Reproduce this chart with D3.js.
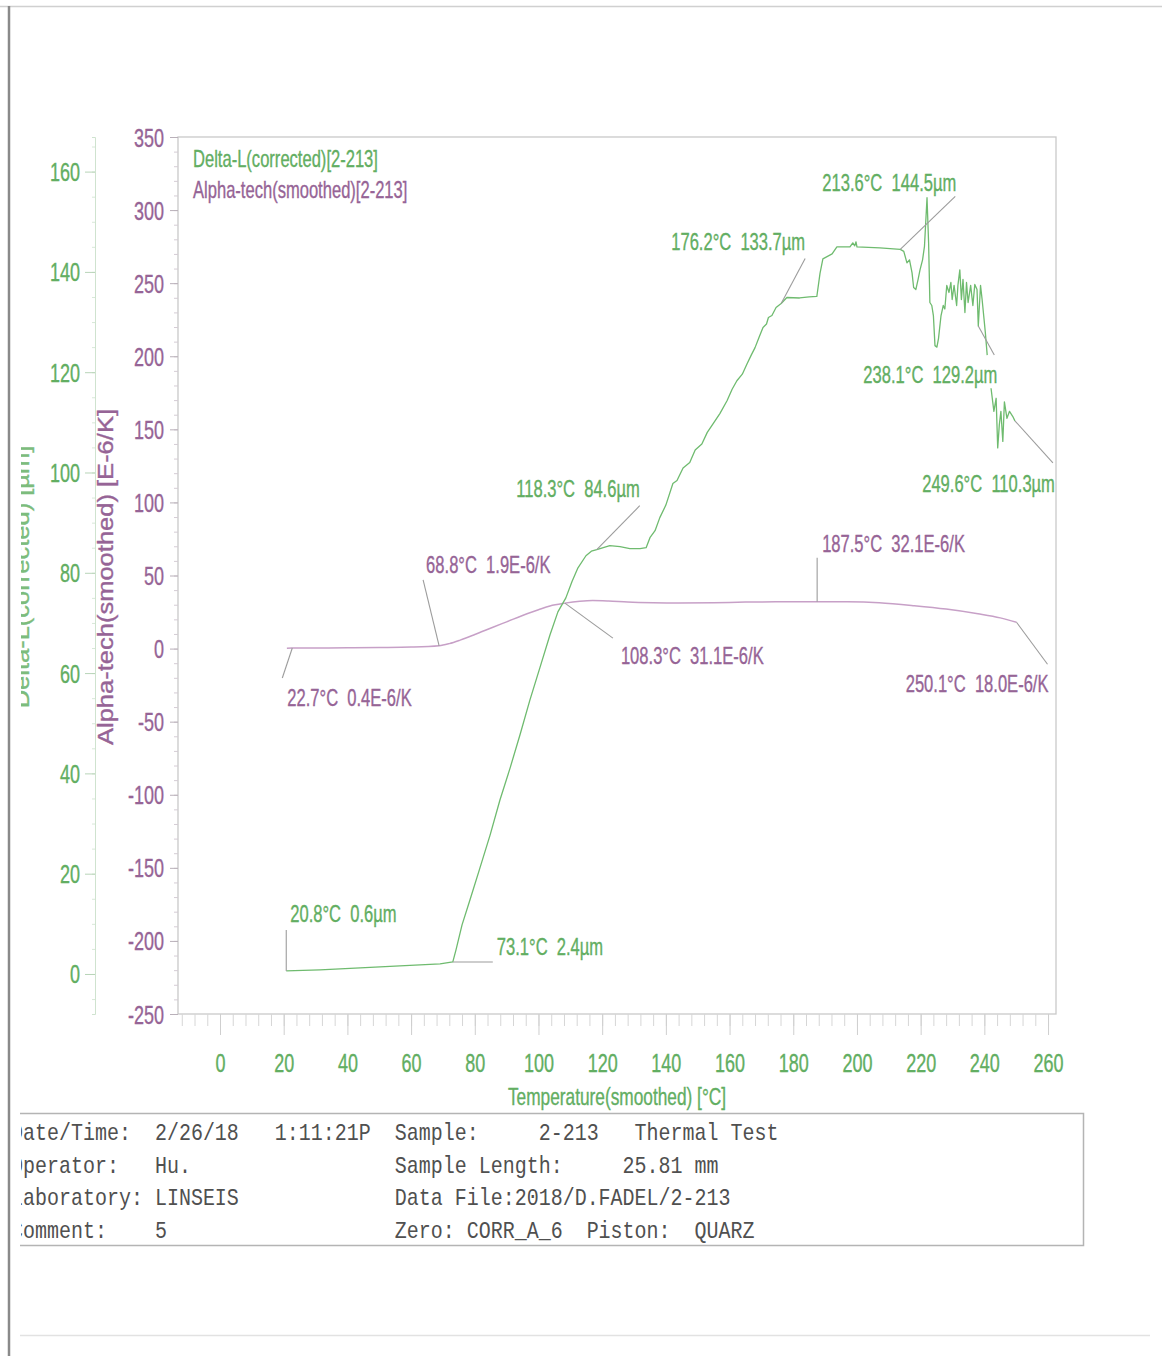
<!DOCTYPE html>
<html>
<head>
<meta charset="utf-8">
<script src="https://cdn.jsdelivr.net/npm/d3@7"></script>
<style>
  html, body { margin: 0; padding: 0; background: #fff; }
  svg { display: block; }
  text { font-family: "Liberation Sans", Arial, sans-serif; }
  .sans { stroke-width: 0.35px; }
  .mono { font-family: "Liberation Mono", "Courier New", monospace; white-space: pre; }
</style>
</head>
<body>
<svg id="chart" width="1162" height="1356"></svg>
<script>
// ---- Delta-L (corrected) [µm] against smoothed temperature [°C] (null = gap in record)
const deltaTemp = [20.8, 31.4, 44.0, 56.5, 69.1, 73.1, 74.1, 76.0, 78.5, 81.6, 84.8, 87.9, 91.1, 94.2,
  97.3, 100.5, 103.6, 106.1, 108.6, 110.5, 112.4, 114.9, 116.6, 118.3, 122.4, 125.6, 128.7, 131.9, 133.8,
  135.0, 136.6, 138.1, 140.0, 142.2, 143.5, 145.4, 147.5, 149.2, 151.3, 153.0, 154.8, 157.0, 159.2, 160.8, 162.3,
  164.0, 165.5, 166.8, 168.0, 169.3, 170.5, 171.6, 172.2, 173.3, 174.6, 176.2, 178.0, 182.0, 185.0, 187.4, 188.4,
  189.3, 192.2, 193.7, 197.8, 198.7, 199.3, 199.7, 200.0, 207.2, 213.6,
  214.7, 215.7, 216.5, 217.3, 217.8, 218.5, 219.2, 219.8, 220.6, 221.2, 222.0, 222.5, 222.9, 223.5, 224.0, 224.5,
  225.1, 225.6, 226.4, 227.1, 227.6, 228.2, 228.9, 229.5, 229.9, 230.5, 231.3, 231.7, 232.3, 232.8, 233.3, 233.9,
  234.4, 234.9, 235.7, 236.4, 237.0, 237.7, 238.1, 238.8, 239.3, 239.9, 240.3, 240.9, 241.5,
  242.1, 243.0, 243.7, 244.2, 244.7, 245.2, 245.8, 246.3, 247.1, 247.9, 248.9, 249.6];
const deltaVal = [0.6, 0.8, 1.2, 1.6, 2.0, 2.4, 4.8, 9.8, 14.8, 21.1, 27.7, 34.7, 41.1, 47.7,
  54.6, 61.2, 67.6, 72.2, 75.0, 78.2, 81.0, 83.4, 84.3, 84.6, 85.4, 85.2, 84.8, 84.8, 85.0,
  87.0, 88.4, 91.0, 93.5, 97.8, 98.4, 100.9, 102.0, 104.5, 105.7, 108.0, 109.7, 111.8, 114.3, 116.6, 118.3,
  119.6, 121.7, 123.4, 124.9, 127.0, 128.9, 129.6, 130.9, 131.3, 132.9, 133.7, 134.9, 134.8, 135.0, 135.1, 139.7,
  142.6, 143.6, 145.0, 145.0, 145.8, 145.2, 146.0, 145.0, 144.8, 144.5,
  144.1, 141.8, 142.4, 139.8, 136.9, 136.5, 138.5, 140.4, 142.4, 145.1, 154.8, 145.7, 133.9, 133.3, 131.3, 125.3,
  125.0, 126.7, 131.3, 133.3, 132.6, 137.3, 135.9, 137.9, 134.5, 137.3, 133.3, 137.3, 140.4, 134.5, 138.5, 131.9,
  137.9, 133.9, 137.3, 133.3, 137.5, 136.5, 129.2, 137.3, 134.5, 130.6, 128.0, 123.4, null,
  116.8, 112.2, 114.8, 104.9, 109.5, 112.2, 106.2, 114.1, 110.8, 112.2, 111.2, 110.3];

// ---- Alpha-tech (smoothed) [E-6/K]
const alphaTemp = [21.0, 22.7, 30, 40, 50, 60, 68.8, 72, 75.4, 80, 85.7, 90, 96.4, 100, 103.6, 108.3,
  113, 117, 122, 128, 136, 144, 155, 165, 175, 187.5, 197, 207, 218, 228, 238, 245, 250.1];
const alphaVal = [0.3, 0.4, 0.4, 0.5, 0.7, 1.0, 1.9, 3.4, 5.8, 9.6, 14.6, 18.3, 23.8, 26.6, 29.2, 31.1,
  32.4, 32.9, 32.6, 31.9, 31.4, 31.2, 31.4, 31.8, 32.0, 32.1, 32.0, 31.3, 29.3, 27.0, 23.8, 21.0, 18.0];

// ---- evaluation points written on the curves
const deltaMarkTemp = [20.8, 73.1, 118.3, 176.2, 213.6, 238.1, 249.6];
const deltaMarkVal  = [0.6, 2.4, 84.6, 133.7, 144.5, 129.2, 110.3];
const alphaMarkTemp = [22.7, 68.8, 108.3, 187.5, 250.1];
const alphaMarkVal  = [0.4, 1.9, 31.1, 32.1, 18.0];

// ---- axis ticks
const tempTicks  = d3.range(0, 261, 20);
const deltaTicks = d3.range(0, 161, 20);
const alphaTicks = d3.range(-250, 351, 50);

// ---- legend / titles / info block
const seriesNames = ["Delta-L(corrected)[2-213]", "Alpha-tech(smoothed)[2-213]"];
const xTitle = "Temperature(smoothed) [°C]";
const deltaTitle = "Delta-L(corrected) [µm]";
const alphaTitle = "Alpha-tech(smoothed) [E-6/K]";
const infoLines = [
  "Date/Time:  2/26/18   1:11:21P  Sample:     2-213   Thermal Test",
  "Operator:   Hu.                 Sample Length:     25.81 mm",
  "Laboratory: LINSEIS             Data File:2018/D.FADEL/2-213",
  "Comment:    5                   Zero: CORR_A_6  Piston:  QUARZ"
];

// ================= layout & style =================
const GREEN = "#62ae62", GREEN_LINE = "#6fbb6f";
const PURPLE = "#966496", PURPLE_LINE = "#c7a0c7";
const LEADER = "#9c9c9c", FRAME = "#c9c9c9";
const plot = { left: 178, right: 1056, top: 137, bottom: 1014 };
const SX = 0.72;   // narrow face
const plain = d => String(d);   // hyphen-minus for negative ticks

const svg = d3.select("#chart");

const x  = d3.scaleLinear().domain([-13.19, 262.5]).range([plot.left, plot.right]);
const yA = d3.scaleLinear().domain([-250, 350]).range([plot.bottom, plot.top]);
const yD = d3.scaleLinear().domain([-7.98, 166.9]).range([plot.bottom, plot.top]);

function squeeze(sel, sx, extra) {
  sel.each(function () {
    const t = d3.select(this);
    const tx = +t.attr("x") || 0, ty = +t.attr("y") || 0;
    t.attr("x", null).attr("y", null)
     .attr("transform", `translate(${tx},${ty})${extra || ""} scale(${sx},1)`);
  });
}
function ink(sel, color) {
  sel.attr("fill", color).attr("stroke", color).attr("class", "sans");
}

// page edges
svg.append("line").attr("x1", 0).attr("x2", 1162).attr("y1", 6.5).attr("y2", 6.5)
  .attr("stroke", "#d0d0d0").attr("stroke-width", 1.5);
svg.append("line").attr("x1", 9).attr("x2", 9).attr("y1", 6).attr("y2", 1356)
  .attr("stroke", "#8a8a8a").attr("stroke-width", 2.5);
svg.append("line").attr("x1", 20).attr("x2", 1150).attr("y1", 1335.5).attr("y2", 1335.5)
  .attr("stroke", "#e2e2e2").attr("stroke-width", 1.5);

// plot frame
svg.append("rect")
  .attr("x", plot.left).attr("y", plot.top)
  .attr("width", plot.right - plot.left).attr("height", plot.bottom - plot.top)
  .attr("fill", "none").attr("stroke", FRAME).attr("stroke-width", 1.3);

// ---- alpha axis (purple)
const gA = svg.append("g").attr("transform", `translate(${plot.left},0)`);
gA.append("g").call(d3.axisLeft(yA).tickValues(d3.range(-250, 351, 10)).tickSize(4).tickFormat(""))
  .call(g => g.select(".domain").remove())
  .call(g => g.selectAll("line").attr("stroke", "#d4ccd4"));
gA.append("g").call(d3.axisLeft(yA).tickValues(alphaTicks).tickSize(8).tickPadding(6).tickFormat(plain))
  .call(g => g.select(".domain").remove())
  .call(g => g.selectAll("line").attr("stroke", "#b9b0b9"))
  .call(g => g.selectAll("text").attr("font-size", 25).attr("dy", "0.36em").call(ink, PURPLE))
  .call(g => squeeze(g.selectAll("text"), SX));

// ---- delta axis (green)
const gD = svg.append("g").attr("transform", "translate(95,0)");
gD.append("g").call(d3.axisLeft(yD).tickValues(d3.range(-5, 166, 5)).tickSize(3).tickFormat(""))
  .call(g => g.select(".domain").attr("stroke", "#cfe3cf"))
  .call(g => g.selectAll(".tick line").attr("stroke", "#d8e8d8"));
gD.append("g").call(d3.axisLeft(yD).tickValues(deltaTicks).tickSize(10).tickPadding(5).tickFormat(plain))
  .call(g => g.select(".domain").remove())
  .call(g => g.selectAll("line").attr("stroke", "#b8d4b8"))
  .call(g => g.selectAll("text").attr("font-size", 25).attr("dy", "0.36em").call(ink, GREEN))
  .call(g => squeeze(g.selectAll("text"), SX));

// ---- temperature axis
const gX = svg.append("g").attr("transform", `translate(0,${plot.bottom})`);
gX.append("g").call(d3.axisBottom(x).tickValues(d3.range(-12, 262, 4)).tickSize(12).tickFormat(""))
  .call(g => g.select(".domain").remove())
  .call(g => g.selectAll("line").attr("stroke", "#d6d6d6"));
gX.append("g").call(d3.axisBottom(x).tickValues(tempTicks).tickSize(21).tickPadding(19).tickFormat(plain))
  .call(g => g.select(".domain").remove())
  .call(g => g.selectAll("line").attr("stroke", "#cfcfcf"))
  .call(g => g.selectAll("text").attr("font-size", 25).call(ink, GREEN))
  .call(g => squeeze(g.selectAll("text"), SX));

// ---- axis titles
svg.append("text").attr("x", 617).attr("y", 1105).attr("text-anchor", "middle")
  .attr("font-size", 24).text(xTitle).call(ink, GREEN)
  .call(t => squeeze(t, SX));

svg.append("text").attr("text-anchor", "middle").attr("font-size", 22)
  .attr("transform", "translate(113,577) rotate(-90) scale(1.16,1)").text(alphaTitle).call(ink, PURPLE);

svg.append("clipPath").attr("id", "edge").append("rect")
  .attr("x", 21).attr("y", 0).attr("width", 1141).attr("height", 1356);
svg.append("g").attr("clip-path", "url(#edge)")
  .append("text").attr("text-anchor", "middle").attr("font-size", 22)
  .attr("transform", "translate(29,577) rotate(-90) scale(1.16,1)").text(deltaTitle).call(ink, "#7cbc7c");

// ---- legend
svg.append("text").attr("x", 193).attr("y", 167).attr("font-size", 23)
  .text(seriesNames[0]).call(ink, GREEN).call(t => squeeze(t, SX));
svg.append("text").attr("x", 193).attr("y", 198).attr("font-size", 23)
  .text(seriesNames[1]).call(ink, PURPLE).call(t => squeeze(t, SX));

// ---- curves
const deltaData = deltaTemp.map((t, i) => ({ t, v: deltaVal[i] }));
const alphaData = alphaTemp.map((t, i) => ({ t, v: alphaVal[i] }));

svg.append("path").datum(alphaData)
  .attr("fill", "none").attr("stroke", PURPLE_LINE).attr("stroke-width", 1.5)
  .attr("d", d3.line().x(d => x(d.t)).y(d => yA(d.v)).curve(d3.curveMonotoneX));

svg.append("path").datum(deltaData)
  .attr("fill", "none").attr("stroke", GREEN_LINE).attr("stroke-width", 1.3)
  .attr("stroke-linejoin", "round")
  .attr("d", d3.line().defined(d => d.v !== null).x(d => x(d.t)).y(d => yD(d.v)));

// ---- value annotations: leader offset (lx,ly) and label offset (tx,ty) from the marked point
const deltaLayout = [
  { lx: 0,  ly: -41, tx: 4,  ty: -49, anchor: "start" },
  { lx: 40, ly: 0,   tx: 44, ty: -7,  anchor: "start" },
  { lx: 43, ly: -44, tx: 43, ty: -53, anchor: "end" },
  { lx: 24, ly: -45, tx: 24, ty: -53, anchor: "end" },
  { lx: 55, ly: -53, tx: 56, ty: -58, anchor: "end" },
  { lx: 16, ly: 29,  tx: 19, ty: 57,  anchor: "end" },
  { lx: 38, ly: 42,  tx: 40, ty: 71,  anchor: "end" }
];
const alphaLayout = [
  { lx: -10, ly: 30,  tx: -5,  ty: 58,  anchor: "start" },
  { lx: -16, ly: -66, tx: -13, ty: -73, anchor: "start" },
  { lx: 48,  ly: 35,  tx: 56,  ty: 61,  anchor: "start" },
  { lx: 0,   ly: -44, tx: 5,   ty: -50, anchor: "start" },
  { lx: 31,  ly: 42,  tx: 32,  ty: 70,  anchor: "end" }
];

function annotate(temps, vals, layout, yScale, unit, color) {
  const g = svg.append("g");
  temps.forEach((t, i) => {
    const px = x(t), py = yScale(vals[i]), L = layout[i];
    g.append("line").attr("x1", px).attr("y1", py).attr("x2", px + L.lx).attr("y2", py + L.ly)
      .attr("stroke", LEADER).attr("stroke-width", 1.1);
    g.append("text").attr("x", px + L.tx).attr("y", py + L.ty)
      .attr("text-anchor", L.anchor).attr("font-size", 23)
      .style("white-space", "pre")
      .text(`${t.toFixed(1)}°C  ${vals[i].toFixed(1)}${unit}`)
      .call(ink, color)
      .call(s => squeeze(s, SX));
  });
}
annotate(deltaMarkTemp, deltaMarkVal, deltaLayout, yD, "µm", GREEN);
annotate(alphaMarkTemp, alphaMarkVal, alphaLayout, yA, "E-6/K", PURPLE);

// ---- measurement info block
const info = svg.append("g");
info.append("path")
  .attr("d", "M20,1113.5 H1083.5 V1245.5 H20")
  .attr("fill", "none").attr("stroke", "#b4b4b4").attr("stroke-width", 1.5);
const infoText = info.append("g").attr("clip-path", "url(#edge)");
infoLines.forEach((line, i) => {
  infoText.append("text").attr("class", "mono")
    .attr("x", 11).attr("y", 1140 + i * 32.7)
    .attr("fill", "#505050").attr("font-size", 24)
    .text(line)
    .call(s => squeeze(s, 0.833));
});
</script>
</body>
</html>
